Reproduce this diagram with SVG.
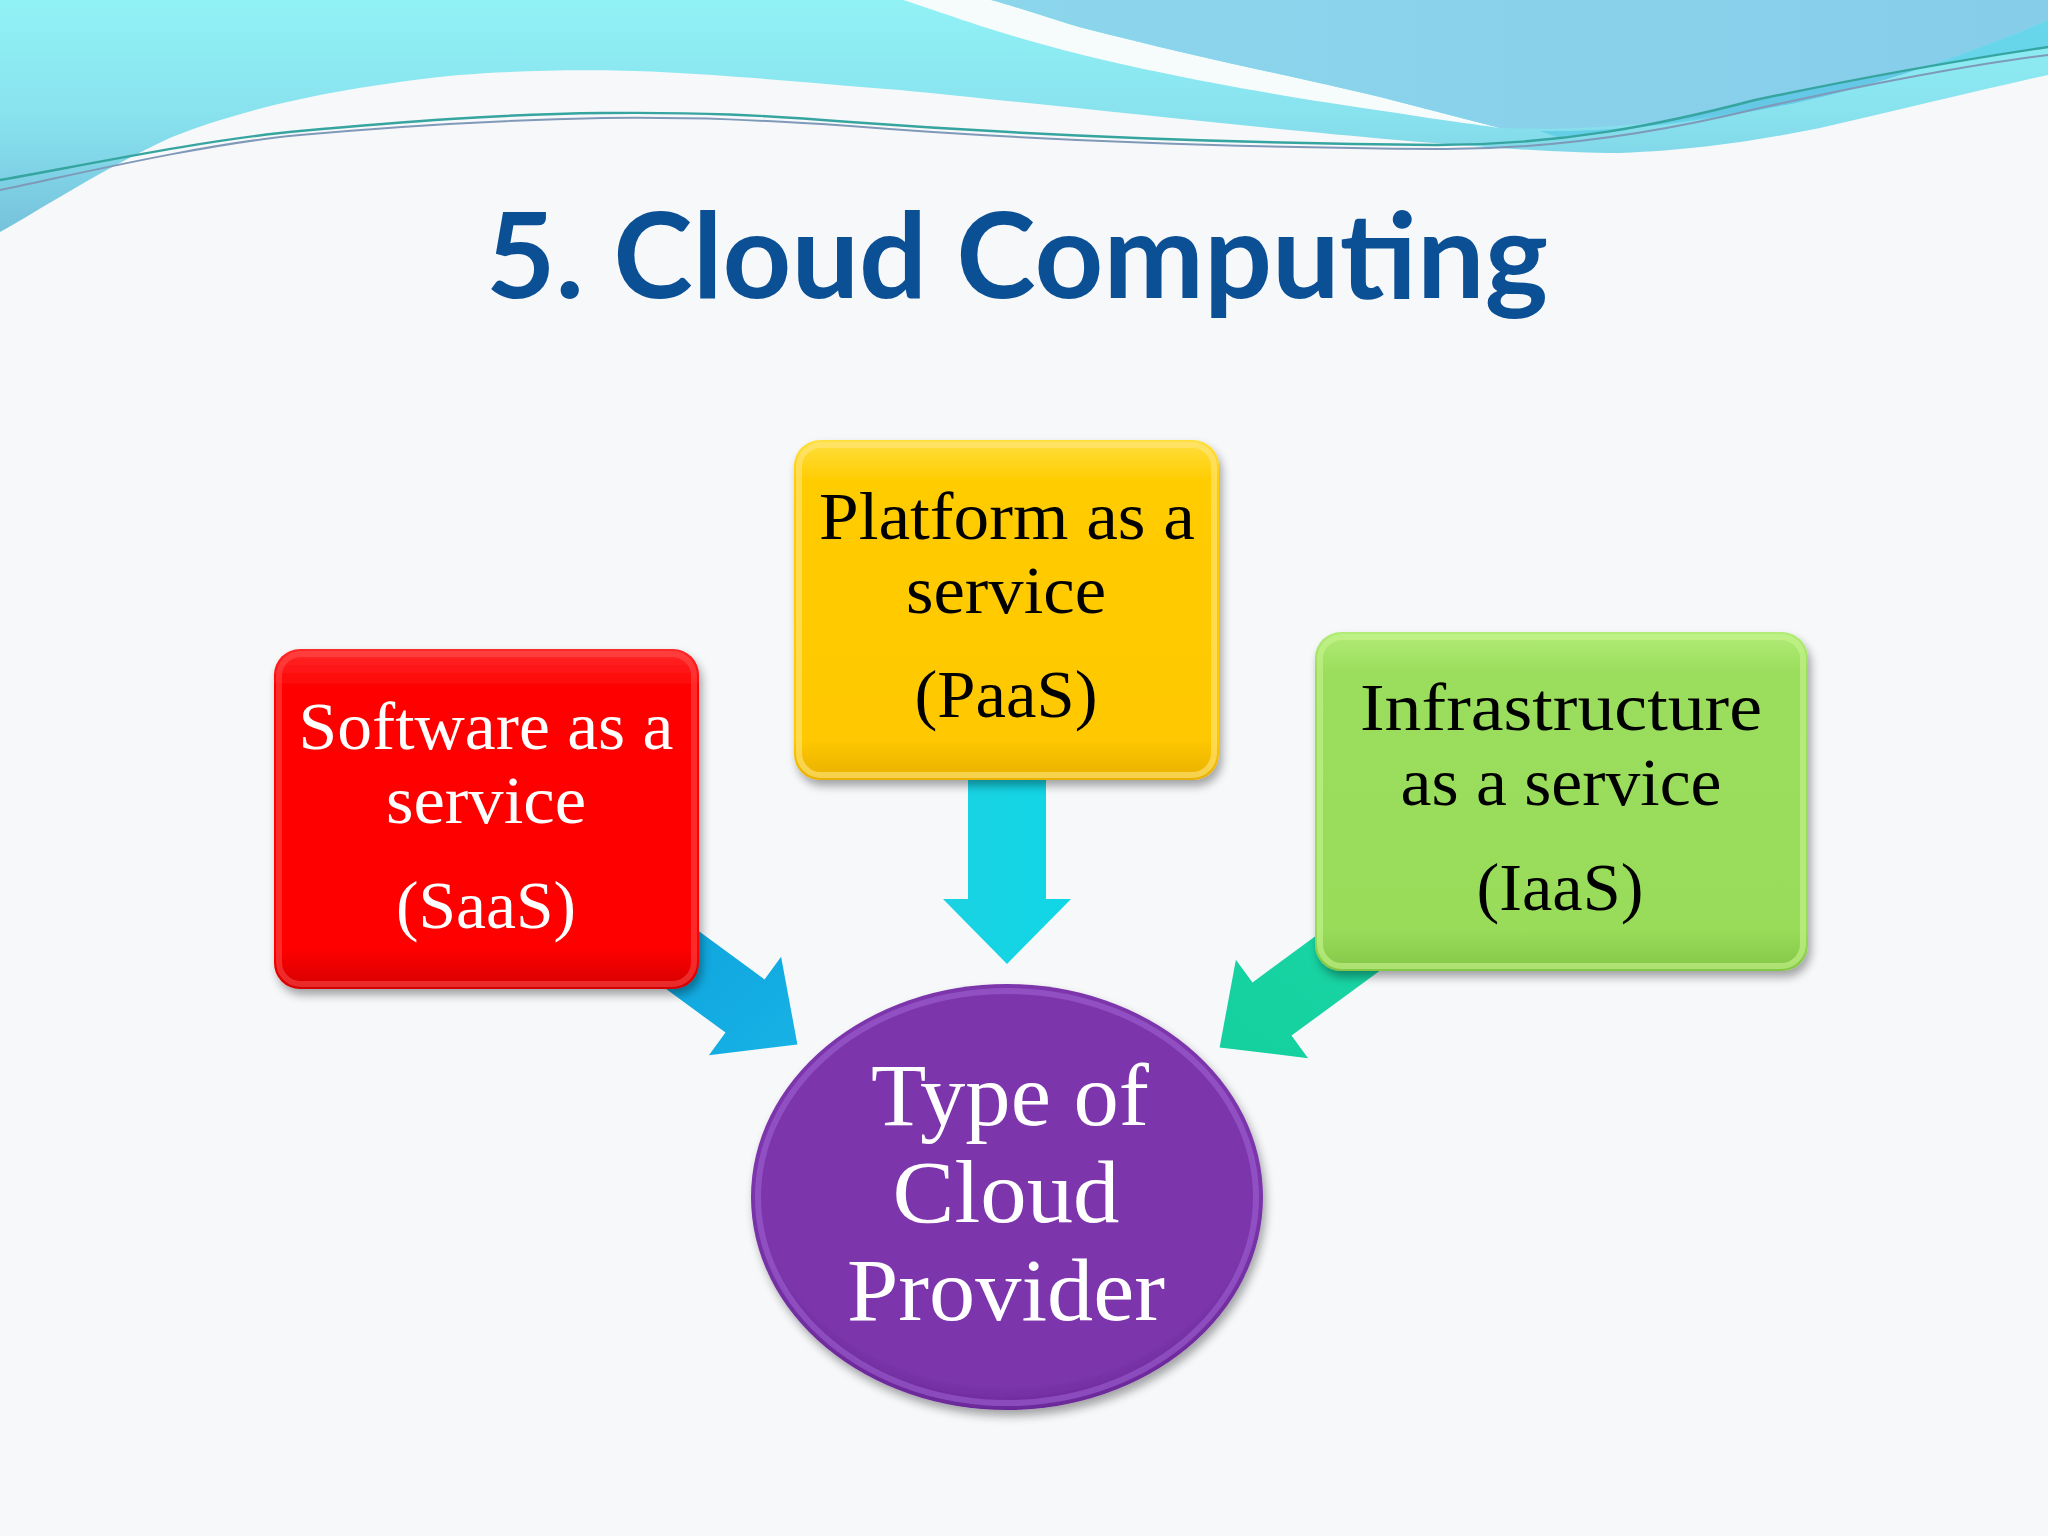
<svg xmlns="http://www.w3.org/2000/svg" width="2048" height="1536" viewBox="0 0 2048 1536">
<defs>
  <linearGradient id="waveA" gradientUnits="userSpaceOnUse" x1="0" y1="0" x2="0" y2="232">
    <stop offset="0" stop-color="#91f2f6"/>
    <stop offset="0.5" stop-color="#88e2ee"/>
    <stop offset="1" stop-color="#76c2dc"/>
  </linearGradient>
  <linearGradient id="waveB" x1="0" y1="0" x2="1" y2="0">
    <stop offset="0" stop-color="#8cd6ec"/>
    <stop offset="1" stop-color="#86cdea"/>
  </linearGradient>
  <linearGradient id="gRed" x1="0" y1="0" x2="0" y2="1">
    <stop offset="0" stop-color="#ff2a2a"/>
    <stop offset="0.12" stop-color="#fe0000"/>
    <stop offset="0.88" stop-color="#fe0000"/>
    <stop offset="1" stop-color="#d40000"/>
  </linearGradient>
  <linearGradient id="gYel" x1="0" y1="0" x2="0" y2="1">
    <stop offset="0" stop-color="#ffe040"/>
    <stop offset="0.12" stop-color="#ffcc00"/>
    <stop offset="0.88" stop-color="#ffc800"/>
    <stop offset="1" stop-color="#e8b000"/>
  </linearGradient>
  <linearGradient id="gGrn" x1="0" y1="0" x2="0" y2="1">
    <stop offset="0" stop-color="#b2ec78"/>
    <stop offset="0.12" stop-color="#9bdd5c"/>
    <stop offset="0.88" stop-color="#99dc5a"/>
    <stop offset="1" stop-color="#84c646"/>
  </linearGradient>
  <radialGradient id="gPur" cx="0.5" cy="0.45" r="0.55">
    <stop offset="0" stop-color="#7d36ac"/>
    <stop offset="0.9" stop-color="#7b35ab"/>
    <stop offset="1" stop-color="#6a2898"/>
  </radialGradient>
  <linearGradient id="gBlue" x1="0" y1="0" x2="1" y2="1">
    <stop offset="0" stop-color="#0a9ed8"/>
    <stop offset="1" stop-color="#17b2e6"/>
  </linearGradient>
  <linearGradient id="gCyan" x1="0" y1="0" x2="1" y2="0">
    <stop offset="0" stop-color="#1ad2e2"/>
    <stop offset="1" stop-color="#10d6e6"/>
  </linearGradient>
  <linearGradient id="gTeal" x1="1" y1="0" x2="0" y2="1">
    <stop offset="0" stop-color="#1bd6a6"/>
    <stop offset="1" stop-color="#14cf9e"/>
  </linearGradient>
  <filter id="shadow" x="-10%" y="-10%" width="125%" height="130%">
    <feGaussianBlur in="SourceAlpha" stdDeviation="5"/>
    <feOffset dx="3" dy="6" result="b"/>
    <feComponentTransfer><feFuncA type="linear" slope="0.35"/></feComponentTransfer>
    <feMerge><feMergeNode/><feMergeNode in="SourceGraphic"/></feMerge>
  </filter>
  <style>
    .title { font-family: "Lato", "Open Sans", sans-serif; font-weight: 700; font-size: 118px; fill: #0b4f95; }
    .lbl { font-family: "Liberation Serif", "DejaVu Serif", serif; font-size: 68px; text-anchor: middle; }
    .big { font-family: "Liberation Serif", "DejaVu Serif", serif; font-size: 88px; text-anchor: middle; fill: #ffffff; }
    .rim { fill: none; stroke-width: 6; }
  </style>
</defs>

<rect width="2048" height="1536" fill="#f7f8fa"/>

<g id="header-wave">
  <path d="M0,0 H2048 V75 C1980,90 1900,110 1820,128 C1760,140 1700,150 1620,153 C1560,153 1480,147 1397,140 C1250,127 1050,105 900,90 C800,82 740,76 660,72 C600,69 520,70 459,75 C330,88 240,110 172,137 C100,170 40,210 0,232 Z" fill="url(#waveA)"/>
  <path d="M903,0 C930,8 980,28 1063,50 C1150,72 1250,92 1397,113 C1440,120 1480,125 1500,128 C1460,118 1420,107 1380,97 C1300,78 1200,58 1079,27 C1040,15 1010,5 991,0 Z" fill="#f6fbfc"/>
  <path d="M991,0 C1010,5 1040,15 1079,27 C1200,58 1300,78 1380,97 C1420,107 1460,118 1500,128 C1580,131 1680,124 1795,103 C1880,85 1980,50 2048,20 V0 Z" fill="url(#waveB)"/>
  <path d="M1540,131 C1620,132 1700,122 1795,103 C1880,85 1980,50 2048,20 V47 C1960,60 1850,80 1755,100 C1680,118 1620,132 1560,138 Z" fill="#48c2e2" fill-opacity="0.55"/>
  <path d="M0,180 C60,170 200,140 300,131 C400,122 500,114 603,113 C700,112 760,115 850,122 C1000,133 1200,143 1437,145 C1560,145 1660,125 1755,100 C1850,80 1960,60 2048,47" fill="none" stroke="#36a5a0" stroke-width="2.4"/>
  <path d="M0,190 C60,178 200,144 300,135 C400,126 500,120 603,118 C700,117 760,120 850,126 C1000,138 1200,147 1437,149 C1560,150 1670,130 1760,108 C1860,86 1960,66 2048,55" fill="none" stroke="#7f99b8" stroke-width="2"/>
</g>

<text class="title" x="486" y="298" textLength="1062" lengthAdjust="spacingAndGlyphs">5. Cloud Computing</text>

<g id="connectors">
  <polygon points="588.5,932 725.5,1032.6 708.9,1055.2 797.4,1044.5 781.1,956.8 764.5,979.4 627.5,878.8" fill="url(#gBlue)"/>
  <polygon points="968,770 1046,770 1046,899 1071,899 1007,964 943,899 968,899" fill="url(#gCyan)"/>
  <polygon points="1428.5,935 1291.5,1035.6 1308.1,1058.2 1219.6,1047.5 1235.9,959.8 1252.5,982.4 1389.5,881.8" fill="url(#gTeal)"/>
</g>

<g id="node-saas" filter="url(#shadow)">
  <rect x="274" y="649" width="425" height="340" rx="26" fill="url(#gRed)"/>
  <rect x="279" y="654" width="415" height="330" rx="22" class="rim" stroke="#ff5a5a" stroke-opacity="0.45"/>
  <text class="lbl" fill="#ffffff" x="486" y="749" textLength="375" lengthAdjust="spacingAndGlyphs">Software as a</text>
  <text class="lbl" fill="#ffffff" x="486" y="823" textLength="200" lengthAdjust="spacingAndGlyphs">service</text>
  <text class="lbl" fill="#ffffff" x="486" y="928" textLength="180" lengthAdjust="spacingAndGlyphs">(SaaS)</text>
</g>

<g id="node-paas" filter="url(#shadow)">
  <rect x="794" y="440" width="425" height="340" rx="26" fill="url(#gYel)"/>
  <rect x="799" y="445" width="415" height="330" rx="22" class="rim" stroke="#ffe680" stroke-opacity="0.6"/>
  <text class="lbl" fill="#000000" x="1007" y="539" textLength="376" lengthAdjust="spacingAndGlyphs">Platform as a</text>
  <text class="lbl" fill="#000000" x="1006" y="613" textLength="200" lengthAdjust="spacingAndGlyphs">service</text>
  <text class="lbl" fill="#000000" x="1006" y="717" textLength="183" lengthAdjust="spacingAndGlyphs">(PaaS)</text>
</g>

<g id="node-iaas" filter="url(#shadow)">
  <rect x="1315" y="632" width="493" height="339" rx="26" fill="url(#gGrn)"/>
  <rect x="1320" y="637" width="483" height="329" rx="22" class="rim" stroke="#c8f590" stroke-opacity="0.6"/>
  <text class="lbl" fill="#000000" x="1561" y="730" textLength="402" lengthAdjust="spacingAndGlyphs">Infrastructure</text>
  <text class="lbl" fill="#000000" x="1561" y="805" textLength="321" lengthAdjust="spacingAndGlyphs">as a service</text>
  <text class="lbl" fill="#000000" x="1560" y="910" textLength="167" lengthAdjust="spacingAndGlyphs">(IaaS)</text>
</g>

<g id="node-provider" filter="url(#shadow)">
  <ellipse cx="1007" cy="1197" rx="256" ry="213" fill="url(#gPur)"/>
  <ellipse cx="1007" cy="1197" rx="249" ry="206" class="rim" stroke="#a366d6" stroke-opacity="0.55" stroke-width="5"/>
  <text class="big" x="1010" y="1125" textLength="278" lengthAdjust="spacingAndGlyphs">Type of</text>
  <text class="big" x="1006" y="1222" textLength="227" lengthAdjust="spacingAndGlyphs">Cloud</text>
  <text class="big" x="1006" y="1320" textLength="318" lengthAdjust="spacingAndGlyphs">Provider</text>
</g>
</svg>
